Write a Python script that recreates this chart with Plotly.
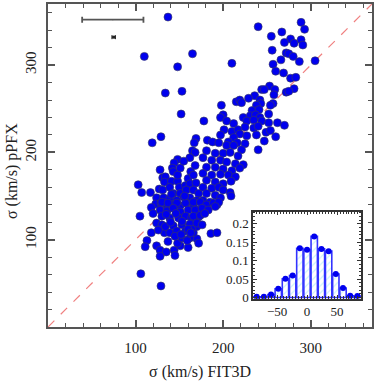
import plotly.graph_objects as go

# ---- main scatter data (sigma FIT3D vs sigma pPFX, km/s) ----
fit3d = [137,110,165,148,134,153,152,
 289,293,240,255,267,277,270,281,289,291,256,272,275,280,210,266,287,305,257,260,269,277,283,253,244,247,259,258,281,272,275,236,229,215,219,221,242,243,238,257,254,198,233,241,
 129,119,169,167,165,168,162,148,155,144,142,151,128,143,163,168,131,134,133,141,148,160,166,103,107,117,127,131,139,150,157,162,169,
 143,151,158,166,172,124,132,139,147,155,162,170,123,129,136,143,151,158,166,118,136,
 178,200,197,204,212,223,231,237,242,252,227,235,244,252,262,270,201,210,217,225,235,240,249,254,260,238,197,219,227,212,206,216,225,247,182,188,195,204,212,221,240,181,191,200,208,217,177,187,197,204,214,223,181,191,200,210,219,177,187,197,206,214,209,181,191,200,177,187,195,200,208,209,181,191,197,177,185,193,181,
 105,124,130,118,133,139,113,111,124,128,137,135,144,145,151,160,128,148,170,172,106,129,
 130,137,147,157,166,128,136,143,151,160,170,130,139,149,157,164,172,134,143,153,162,170,147,157,166,153,162,
 174,181,189,195,168,176,183,191,166,174,179,170,176,164,186,193,
 140,146,153,160,156,148,141,135,145,152,159,163,120,126]
ppfx = [355,310,313,298,268,270,244,
 349,341,344,333,338,330,326,325,329,323,317,314,313,310,302,306,304,305,301,293,291,285,286,276,272,272,272,266,273,269,270,265,262,258,260,257,260,256,254,256,254,254,248,249,
 218,211,216,211,202,200,194,192,190,188,182,182,180,178,178,185,171,172,166,167,167,170,174,163,154,154,158,157,160,160,162,164,165,
 153,153,157,157,153,148,148,147,145,149,148,145,141,142,138,140,139,142,139,137,135,
 236,243,240,236,233,240,242,243,240,244,236,237,236,234,234,231,226,224,226,229,228,230,223,225,218,220,220,221,219,217,212,211,210,213,214,212,211,208,208,203,203,202,199,199,200,196,194,191,191,189,187,186,183,183,181,179,182,176,174,175,174,172,167,168,166,164,160,159,160,157,154,150,153,151,148,145,143,140,138,
 127,119,117,108,108,108,99,92,93,88,98,86,88,82,93,91,81,96,101,96,61,47,
 143,142,142,142,143,134,133,136,132,134,134,127,125,125,127,125,126,115,116,117,118,115,110,110,108,102,102,
 143,140,142,143,134,136,134,138,127,128,130,119,117,112,107,108,
 120,130,121,112,150,174,152,129,104,106,99,108,130,111]

# ---- inset histogram (difference, km/s) ----
hist_centers = [-84,-72,-60,-48,-36,-24,-12,0,12,24,36,48,60,72,84]
hist_frac = [0.002,0.002,0.008,0.024,0.051,0.060,0.134,0.130,0.166,0.132,0.126,0.064,0.026,0.005,0.004]

# ---- typical error bars (top-left) ----
err_x = [74, 75]
err_y = [352, 332]
err_dx = [35, 2]

axis_range = [0, 370]
serif = "Liberation Serif"
gray = "#555555"

fig = go.Figure()

fig.add_trace(go.Scatter(x=axis_range, y=axis_range, mode="lines",
    line=dict(color="#f08080", width=1.2, dash="dash"), showlegend=False, hoverinfo="skip"))

fig.add_trace(go.Scatter(x=fit3d, y=ppfx, mode="markers",
    marker=dict(color="#0000ee", size=8, line=dict(color="#3a3a5a", width=0.6)),
    showlegend=False))

fig.add_trace(go.Scatter(x=err_x[:1], y=err_y[:1], mode="markers",
    marker=dict(size=1, color=gray),
    error_x=dict(type="data", array=err_dx[:1], color=gray, thickness=1.8, width=3),
    showlegend=False))
fig.add_trace(go.Scatter(x=err_x[1:], y=err_y[1:], mode="markers",
    marker=dict(size=3, color="#222222", symbol="square"),
    error_x=dict(type="data", array=err_dx[1:], color="#222222", thickness=1, width=2),
    showlegend=False))

# inset
fig.add_trace(go.Bar(x=hist_centers, y=hist_frac, width=10.6, xaxis="x2", yaxis="y2",
    marker=dict(color="white", line=dict(color="#3333ff", width=1.6),
                pattern=dict(shape="/", fgcolor="#9fe6f7", bgcolor="white", size=5, solidity=0.25)),
    showlegend=False))
fig.add_trace(go.Scatter(x=hist_centers, y=hist_frac, mode="markers", xaxis="x2", yaxis="y2",
    marker=dict(color="#0000ee", size=6), showlegend=False))

main_axis = dict(range=axis_range, showgrid=False, zeroline=False, showline=True,
    linecolor=gray, linewidth=2, mirror="allticks", ticks="inside", ticklen=7,
    tickwidth=1.5, tickcolor=gray, tickvals=[100, 200, 300],
    minor=dict(dtick=20, ticks="inside", ticklen=4, tickwidth=1.2, tickcolor=gray),
    tickfont=dict(family=serif, size=15, color="#222222"))

fig.update_layout(
    width=383, height=383,
    margin=dict(l=48, r=11, t=2, b=56),
    paper_bgcolor="white", plot_bgcolor="white",
    xaxis=dict(**main_axis, domain=[0, 1], ticklabelstandoff=6),
    yaxis=dict(**main_axis, domain=[0, 1], tickangle=-90, ticklabelstandoff=4),
    xaxis2=dict(domain=[0.633, 0.966], anchor="y2", range=[-90, 90], showgrid=False,
        zeroline=False, showline=True, linecolor="#333333", linewidth=1.5, mirror="allticks",
        ticks="inside", ticklen=4, tickcolor="#333333", tickvals=[-50, 0, 50],
        minor=dict(dtick=5, ticks="inside", ticklen=2.5, tickcolor="#333333"),
        tickfont=dict(family=serif, size=13, color="#222222")),
    yaxis2=dict(domain=[0.0877, 0.357], anchor="x2", range=[-0.003, 0.233], showgrid=False,
        zeroline=False, showline=True, linecolor="#333333", linewidth=1.5, mirror="allticks",
        ticks="inside", ticklen=4, tickcolor="#333333",
        tickvals=[0, 0.05, 0.1, 0.15, 0.2], ticktext=["0", "0.05", "0.1", "0.15", "0.2"],
        minor=dict(dtick=0.01, ticks="inside", ticklen=2.5, tickcolor="#333333"),
        tickfont=dict(family=serif, size=13, color="#222222")),
    annotations=[
        dict(text="σ (km/s) FIT3D", xref="paper", yref="paper", x=0.469, y=-0.138,
             showarrow=False, font=dict(family=serif, size=16, color="#222222"),
             xanchor="center", yanchor="middle"),
        dict(text="σ (km/s) pPFX", xref="paper", yref="paper", x=-0.111, y=0.483,
             showarrow=False, textangle=-90, font=dict(family=serif, size=16, color="#222222"),
             xanchor="center", yanchor="middle"),
    ],
)

fig.write_html("out.html", config={"displayModeBar": False},
               post_script="document.body.style.margin='0';document.body.style.padding='0';")
